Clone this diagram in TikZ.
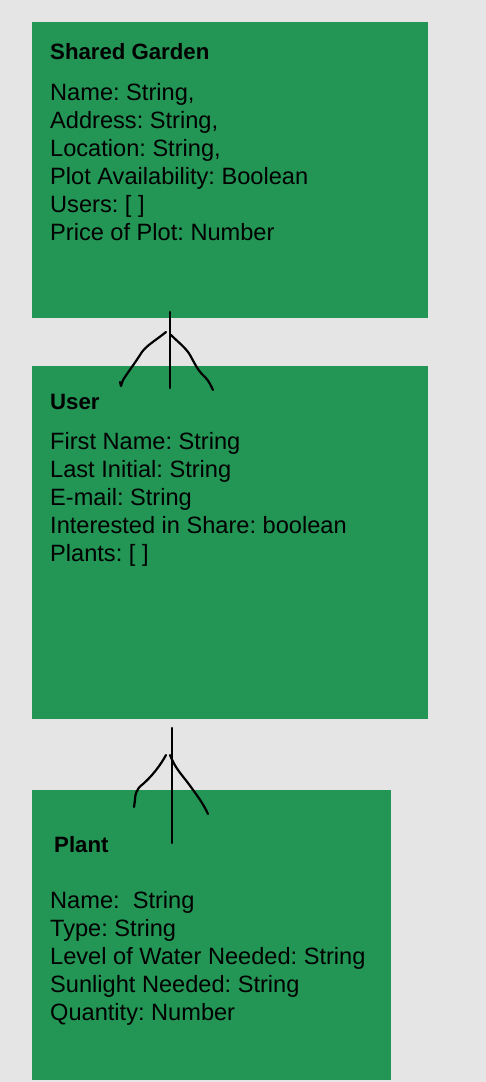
\documentclass[tikz,border=0pt]{standalone}
\usepackage{fontspec}
\setmainfont{Liberation Sans}
\begin{document}
\frenchspacing
\begin{tikzpicture}[x=1pt,y=-1pt,
  box/.style={fill=boxgreen, draw=none},
  txt/.style={anchor=base west, inner sep=0pt, font=\fontsize{23.6}{27}\selectfont},
  ttl/.style={txt, font=\fontsize{22.2}{26}\selectfont\bfseries},
  ink/.style={line width=2.2pt, black, line cap=round, line join=round}]
\definecolor{boxgreen}{HTML}{239554}
\definecolor{bggray}{HTML}{E5E5E5}
\fill[bggray] (0,0) rectangle (486,1082);
\useasboundingbox (0,0) rectangle (486,1082);
% boxes
\path[box] (32,22) rectangle (428,318);
\path[box] (32,366) rectangle (428,719);
\path[box] (32,790) rectangle (391,1080);
% Shared Garden
\node[ttl] (gt) at (50,59) {Shared Garden};
\node[txt] (g1t) at (50,100) {Name: String,};
\node[txt] (g2t) at (50,128) {Address: String,};
\node[txt] (g3t) at (50,156) {Location: String,};
\node[txt] (g4t) at (50,184) {Plot Availability: Boolean};
\node[txt] (g5t) at (50,212) {Users: [ ]};
\node[txt] (g6t) at (50,240) {Price of Plot: Number};
% User
\node[ttl] (ut) at (50,409) {User};
\node[txt] (u1t) at (50,449) {First Name: String};
\node[txt] (u2t) at (50,477) {Last Initial: String};
\node[txt] (u3t) at (50,505) {E-mail: String};
\node[txt] (u4t) at (50,533) {Interested in Share: boolean};
\node[txt] (u5t) at (50,561) {Plants: [ ]};
% Plant
\node[ttl] (pt) at (54,852) {Plant};
\node[txt] (p1t) at (50,908) {Name:\ \ String};
\node[txt] (p2t) at (50,936) {Type: String};
\node[txt] (p3t) at (50,964) {Level of Water Needed: String};
\node[txt] (p4t) at (50,992) {Sunlight Needed: String};
\node[txt] (p5t) at (50,1020) {Quantity: Number};
% connector 1
\coordinate (c1a) at (170,312);
\coordinate (c1b) at (170,388);
\draw[ink] (c1a) -- (c1b);
\draw[ink] (166,332) .. controls (155,341) and (145,346) .. (140,355)
  .. controls (135,363) and (128,372) .. (123,380) -- (121,386) -- (120,382);
\draw[ink] (171,335) .. controls (178,342) and (186,348) .. (190,355)
  .. controls (195,364) and (198,371) .. (205,377) .. controls (209,381) and (211,386) .. (213,390);
% connector 2
\coordinate (c2a) at (172,728);
\coordinate (c2b) at (172,843);
\draw[ink] (c2a) -- (c2b);
\draw[ink] (166,755) .. controls (160,766) and (152,776) .. (143,784)
  .. controls (136,789) and (135,795) .. (135,800) -- (134,807);
\draw[ink] (170,755) .. controls (175,768) and (182,775) .. (188,783)
  .. controls (196,794) and (203,803) .. (208,814);
\end{tikzpicture}
\end{document}
